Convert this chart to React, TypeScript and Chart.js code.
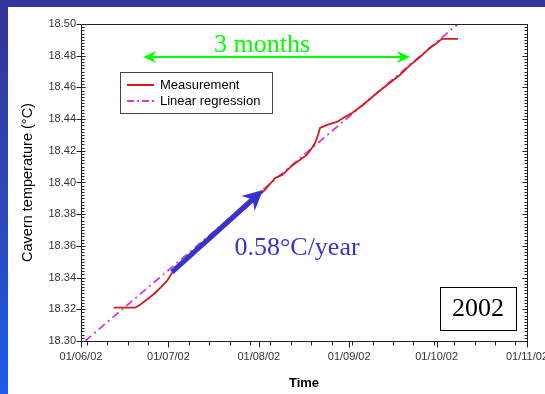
import React, { useEffect, useRef } from "react";
import { Chart, registerables } from "chart.js";

Chart.register(...registerables);

// ---- data (x = days since 01/06/02) ----
const measDay = [11.2, 18.5, 20.2, 23.7, 25.4, 27.1, 29.5, 31.2, 37.4, 44.3, 51.1, 58.0, 63.1, 66.6, 69.0, 72.7, 77.5, 79.2, 80.3, 81.3, 82.0, 84.4, 87.8, 89.9, 93.0, 96.7, 101.5, 105.0, 109.4, 112.9, 116.3, 119.7, 122.1, 123.8, 129.3];
const measTemp = [18.321, 18.321, 18.3227, 18.3278, 18.3303, 18.3334, 18.3379, 18.3429, 18.353, 18.3638, 18.3751, 18.3864, 18.3953, 18.4029, 18.4048, 18.4111, 18.4174, 18.4218, 18.4249, 18.4300, 18.4344, 18.4363, 18.4382, 18.4407, 18.4439, 18.4489, 18.4565, 18.4615, 18.4678, 18.4741, 18.4792, 18.4849, 18.4880, 18.4906, 18.4906];
const regDay = [1.4, 129.3];
const regTemp = [18.30, 18.50];

const monthTickDays = [0, 30, 61, 92, 122, 153];
const monthTickLabels = ["01/06/02", "01/07/02", "01/08/02", "01/09/02", "01/10/02", "01/11/02"];
const firstMondayDay = 2; // 03/06/02
const yMin = 18.3;
const yMax = 18.5;
const yStep = 0.02;

// annotations (data units)
const spanArrow = { from: 21.3, to: 112.9, y: 18.4792 };
const spanText = { text: "3 months", x: 62.1, y: 18.4868 };
const rateArrow = { x0: 31.2, y0: 18.3435, x1: 62.4, y1: 18.3953 };
const rateText = { text: "0.58°C/year", x: 74.1, y: 18.3587 };
const yearText = "2002";

const RED = "#d21c1c";
const MAGENTA = "#d43ad4";
const GREEN = "#00ff00";
const BLUE = "#3434cc";

function arrowHead(ctx: CanvasRenderingContext2D, x: number, y: number, ang: number, len: number, half: number, color: string) {
  ctx.save();
  ctx.translate(x, y);
  ctx.rotate(ang);
  ctx.fillStyle = color;
  ctx.beginPath();
  ctx.moveTo(0, 0);
  ctx.lineTo(-len, -half);
  ctx.lineTo(-len * 0.7, 0);
  ctx.lineTo(-len, half);
  ctx.closePath();
  ctx.fill();
  ctx.restore();
}

const decorPlugin = {
  id: "decor",
  afterDraw(chart: any) {
    const ctx: CanvasRenderingContext2D = chart.ctx;
    const { left, right, top, bottom } = chart.chartArea;
    const xs = chart.scales.x;
    const ys = chart.scales.y;
    const X = (v: number) => xs.getPixelForValue(v);
    const Y = (v: number) => ys.getPixelForValue(v);
    ctx.save();
    // frame
    ctx.strokeStyle = "#222";
    ctx.lineWidth = 1;
    ctx.strokeRect(Math.round(left) + 0.5, Math.round(top) + 0.5, Math.round(right - left), Math.round(bottom - top));
    // y ticks
    ctx.beginPath();
    const nMinor = Math.round((yMax - yMin) / (yStep / 10));
    for (let i = 0; i <= nMinor; i++) {
      const py = Math.round(Y(yMin + (i * yStep) / 10)) + 0.5;
      const major = i % 10 === 0;
      const l = Math.round(left) + 0.5;
      const r = Math.round(right) + 0.5;
      if (major) {
        ctx.moveTo(l - 5, py); ctx.lineTo(l + 4, py);
        ctx.moveTo(r - 5, py); ctx.lineTo(r, py);
      } else {
        ctx.moveTo(l, py); ctx.lineTo(l + 3, py);
        ctx.moveTo(r - 3, py); ctx.lineTo(r, py);
      }
    }
    // x ticks
    const b = Math.round(bottom) + 0.5;
    monthTickDays.forEach((d) => {
      const px = Math.round(X(d)) + 0.5;
      ctx.moveTo(px, b); ctx.lineTo(px, b + 6);
    });
    for (let d = firstMondayDay; d <= 153; d += 7) {
      const px = Math.round(X(d)) + 0.5;
      ctx.moveTo(px, b); ctx.lineTo(px, b + 4);
    }
    ctx.stroke();

    // legend
    const lx = left + 39, ly = top + 48, lw = 152, lh = 41;
    ctx.fillStyle = "#fff";
    ctx.fillRect(lx, ly, lw, lh);
    ctx.strokeStyle = "#444";
    ctx.strokeRect(Math.round(lx) + 0.5, Math.round(ly) + 0.5, lw, lh);
    const ds = chart.data.datasets;
    ctx.font = "13px 'Liberation Sans', Arial, sans-serif";
    ctx.textBaseline = "middle";
    ctx.textAlign = "left";
    [0, 1].forEach((i) => {
      const yy = ly + 13 + i * 16;
      ctx.strokeStyle = ds[i].borderColor;
      ctx.lineWidth = 2;
      ctx.setLineDash(i === 1 ? [7, 3, 2, 3] : []);
      ctx.beginPath();
      ctx.moveTo(lx + 7, yy); ctx.lineTo(lx + 34, yy);
      ctx.stroke();
      ctx.setLineDash([]);
      ctx.fillStyle = "#000";
      ctx.fillText(ds[i].label, lx + 40, yy);
    });

    // green double arrow
    const gy = Y(spanArrow.y);
    const gx0 = X(spanArrow.from), gx1 = X(spanArrow.to);
    ctx.strokeStyle = GREEN;
    ctx.lineWidth = 2;
    ctx.beginPath();
    ctx.moveTo(gx0 + 6, gy); ctx.lineTo(gx1 - 6, gy);
    ctx.stroke();
    arrowHead(ctx, gx0, gy, Math.PI, 13, 6, GREEN);
    arrowHead(ctx, gx1, gy, 0, 13, 6, GREEN);
    ctx.fillStyle = GREEN;
    ctx.font = "26px 'Liberation Serif', 'Times New Roman', serif";
    ctx.textAlign = "center";
    ctx.textBaseline = "middle";
    ctx.fillText(spanText.text, X(spanText.x), Y(spanText.y));

    // blue arrow
    const bx0 = X(rateArrow.x0), by0 = Y(rateArrow.y0), bx1 = X(rateArrow.x1), by1 = Y(rateArrow.y1);
    const ang = Math.atan2(by1 - by0, bx1 - bx0);
    ctx.strokeStyle = BLUE;
    ctx.lineWidth = 5;
    ctx.beginPath();
    ctx.moveTo(bx0, by0);
    ctx.lineTo(bx1 - 10 * Math.cos(ang), by1 - 10 * Math.sin(ang));
    ctx.stroke();
    arrowHead(ctx, bx1, by1, ang, 20, 10, BLUE);
    ctx.fillStyle = BLUE;
    ctx.fillText(rateText.text, X(rateText.x), Y(rateText.y));

    // year box
    const bxl = right - 87, byt = bottom - 54, bw = 76, bh = 43;
    ctx.fillStyle = "#fff";
    ctx.fillRect(bxl, byt, bw, bh);
    ctx.strokeStyle = "#000";
    ctx.lineWidth = 1;
    ctx.strokeRect(Math.round(bxl) + 0.5, Math.round(byt) + 0.5, bw, bh);
    ctx.fillStyle = "#000";
    ctx.fillText(yearText, bxl + bw / 2, byt + bh / 2 + 1);
    ctx.restore();
  },
};

export default function App() {
  const ref = useRef<HTMLCanvasElement>(null);
  useEffect(() => {
    if (!ref.current) return;
    const tickFont = { family: "'Liberation Sans', Arial, sans-serif", size: 11 };
    const chart = new Chart(ref.current, {
      type: "line",
      data: {
        datasets: [
          {
            label: "Measurement",
            data: measDay.map((d, i) => ({ x: d, y: measTemp[i] })),
            borderColor: RED,
            borderWidth: 1.8,
            pointRadius: 0,
            tension: 0,
          },
          {
            label: "Linear regression",
            data: regDay.map((d, i) => ({ x: d, y: regTemp[i] })),
            borderColor: MAGENTA,
            borderWidth: 1.8,
            borderDash: [8, 4, 2, 4],
            pointRadius: 0,
            tension: 0,
          },
        ],
      },
      options: {
        responsive: false,
        animation: false,
        layout: { padding: { left: 0, top: 17, right: 18, bottom: 0 } },
        scales: {
          x: {
            type: "linear",
            min: 0,
            max: 153,
            afterBuildTicks: (s: any) => {
              s.ticks = monthTickDays.map((v) => ({ value: v }));
            },
            afterFit: (s: any) => {
              s.height = 53;
              s.paddingLeft = 0;
              s.paddingRight = 0;
            },
            ticks: {
              autoSkip: false,
              maxRotation: 0,
              padding: 9,
              color: "#333",
              font: tickFont,
              callback: (v: any) => {
                const i = monthTickDays.indexOf(Number(v));
                return i >= 0 ? monthTickLabels[i] : "";
              },
            },
            grid: { display: false, drawTicks: false, tickLength: 0 },
            border: { display: false },
            title: {
              display: true,
              text: "Time",
              color: "#000",
              font: { family: "'Liberation Sans', Arial, sans-serif", size: 13, weight: "bold" },
              padding: { top: 0, bottom: 3 },
            },
          },
          y: {
            min: yMin,
            max: yMax,
            afterFit: (s: any) => {
              s.width = 73;
            },
            ticks: {
              stepSize: yStep,
              padding: 5,
              color: "#333",
              font: tickFont,
              callback: (v: any) => Number(v).toFixed(2),
            },
            grid: { display: false, drawTicks: false, tickLength: 0 },
            border: { display: false },
            title: {
              display: true,
              text: "Cavern temperature (°C)",
              color: "#000",
              font: { family: "'Liberation Sans', Arial, sans-serif", size: 14.5 },
              padding: { top: 11, bottom: 0 },
            },
          },
        },
        plugins: { legend: { display: false }, tooltip: { enabled: false } },
      },
      plugins: [decorPlugin],
    } as any);
    return () => chart.destroy();
  }, []);
  return (
    <div style={{ position: "fixed", inset: 0, background: "linear-gradient(180deg, #333399 0%, #2c47b6 50%, #1c5ce9 100%)" }}>
      <div style={{ position: "absolute", left: 8, top: 7, width: 537, height: 387, background: "#fff" }}>
        <canvas ref={ref} width={537} height={387} style={{ display: "block", width: 537, height: 387 }} />
      </div>
    </div>
  );
}
